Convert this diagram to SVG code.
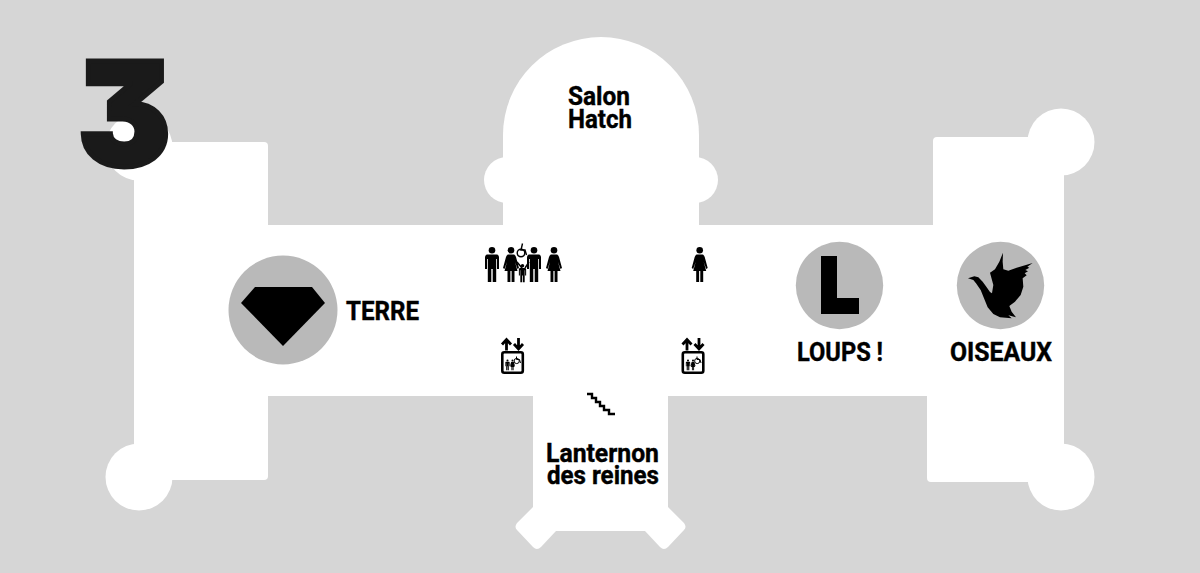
<svg xmlns="http://www.w3.org/2000/svg" xmlns:xlink="http://www.w3.org/1999/xlink" width="1200" height="573" viewBox="0 0 1200 573">
<style>
.floor{fill:#fff}
.disc{fill:#b9b9b9}
.ink{fill:#000}
.lbl{font-family:Roboto,"Liberation Sans",sans-serif;font-weight:700;font-size:26px;fill:#000;text-anchor:middle;stroke:#000;stroke-width:.4px}
.num{font-family:Inter,"Liberation Sans",sans-serif;font-weight:900;font-size:144px;fill:#1a1a1a;stroke:#1a1a1a;stroke-width:5px;stroke-linejoin:miter;font-feature-settings:"cv09"}
</style>
<defs>
<g id="man"><circle cx="0" cy="3.300" r="3.300"/><path d="M-5 7.500H5Q7 8 7 10V22H5V12H4.200V35H.7V22H-.7V35H-4.200V12H-5V22H-7V10Q-7 8-5 7.500Z"/></g>
<g id="woman"><circle cx="0" cy="3.300" r="3.300"/><path d="M-3 7.500H3Q4.500 8 5 10L8 21 6.500 22 4 15 6.500 24H3.500V35H.6V24H-.6V35H-3.500V24H-6.500L-4 15-6.500 22-8 21-5 10Q-4.500 8-3 7.500Z"/></g>
<g id="lift">
<path d="M5.500 12.500V1.500M1 6.500L5.500 1.500 10 6.500" fill="none" stroke="#000" stroke-width="2.800"/>
<path d="M17.500 0V11M13 6L17.500 11 22 6" fill="none" stroke="#000" stroke-width="2.800"/>
<rect x="1.300" y="14.300" width="20.500" height="20.500" rx="2" fill="none" stroke="#000" stroke-width="2.600"/>
<use xlink:href="#man" transform="translate(6.500 21.500) scale(.31)"/>
<use xlink:href="#woman" transform="translate(11.500 21.500) scale(.31)"/>
<circle cx="15.700" cy="23" r="2.600" fill="none" stroke="#000" stroke-width="1"/>
<path d="M15.500 18.500V21.500H18.500L19.500 25" fill="none" stroke="#000" stroke-width="1"/>
</g>
</defs>
<rect id="background" width="1200" height="573" fill="#d6d6d6"/>
<g id="floor-plan" class="floor">
<rect x="134" y="142" width="134" height="338" rx="4"/>
<circle cx="139" cy="147" r="33.500"/>
<circle cx="139" cy="477" r="33.500"/>
<path d="M937 137H1064V482H931Q927 482 927 478V396H933V225H933V141Q933 137 937 137Z"/>
<circle cx="1061" cy="142" r="33.500"/>
<circle cx="1061" cy="477" r="33.500"/>
<rect x="260" y="225" width="680" height="171"/>
<path d="M503 230V135A98 98 0 0 1 699 135V230Z"/>
<circle cx="507" cy="180" r="23"/>
<circle cx="695" cy="180" r="23"/>
<path d="M533 390H668V507L684 523Q687 527 684 530L668 547Q664 551 660 547L645 531H556L541 547Q537 551 533 547L517 530Q514 527 517 523L533 507Z"/>
</g>
<g id="number-3"><text class="num" transform="translate(78 166) scale(.96 1)">3</text></g>
<g id="salon-hatch"><text class="lbl"><tspan x="599" y="105" textLength="62" lengthAdjust="spacingAndGlyphs">Salon</tspan><tspan x="600" y="128" textLength="64" lengthAdjust="spacingAndGlyphs">Hatch</tspan></text></g>
<g id="lanternon"><text class="lbl"><tspan x="602.500" y="462" textLength="113" lengthAdjust="spacingAndGlyphs">Lanternon</tspan><tspan x="603" y="484" textLength="112" lengthAdjust="spacingAndGlyphs">des reines</tspan></text></g>
<g id="terre">
<circle class="disc" cx="283" cy="310" r="54.500"/>
<path class="ink" d="M255 287H312L325 303 283 346 241 303Z"/>
<text class="lbl" x="382.500" y="320" textLength="73" lengthAdjust="spacingAndGlyphs">TERRE</text>
</g>
<g id="loups">
<circle class="disc" cx="839.500" cy="285.500" r="43.700"/>
<path class="ink" d="M821 256H837V298H859V314H821Z"/>
<text class="lbl" x="840" y="361" textLength="86" lengthAdjust="spacingAndGlyphs">LOUPS !</text>
</g>
<g id="oiseaux">
<circle class="disc" cx="1000.500" cy="285.500" r="43.700"/>
<path class="ink" transform="translate(940 230) scale(.3333)" d="M84 145L103 139 115 142 128 155 140 172 150 186 156 190 160 165 150 128 165 118 178 95 189 68 188 95 190 118 205 122 230 113 278 99 262 110 268 113 256 120 264 124 254 130 260 136 248 145 250 170 242 195 225 215 208 228 215 245 228 262 205 256 215 265 180 262 160 252 143 232 132 205 122 180 108 160 100 150Z"/>
<text class="lbl" x="1001" y="361" textLength="102" lengthAdjust="spacingAndGlyphs">OISEAUX</text>
</g>
<g id="toilets-family" class="ink">
<use xlink:href="#man" x="492" y="247"/>
<use xlink:href="#woman" x="511" y="247"/>
<use xlink:href="#man" x="534" y="247"/>
<use xlink:href="#woman" x="554" y="247"/>
<use xlink:href="#man" transform="translate(522.500 264) scale(.52)"/>
<path d="M517 262L522 268M529 262L525 268" stroke="#000" stroke-width="1.500"/>
<circle cx="521" cy="253" r="3.800" fill="none" stroke="#000" stroke-width="1.400"/>
<path d="M522.500 243.500L521 250H525L526.500 255" fill="none" stroke="#000" stroke-width="1.400"/>
</g>
<g id="toilets-women" class="ink"><use xlink:href="#woman" x="699.700" y="247"/></g>
<g id="lift-left" class="ink"><use xlink:href="#lift" transform="translate(501 338)"/></g>
<g id="lift-right" class="ink"><use xlink:href="#lift" transform="translate(681.500 338)"/></g>
<g id="stairs"><path d="M587 394H592V398H596V402H600V406H604V410H609V414H615" fill="none" stroke="#000" stroke-width="2.400"/></g>
</svg>
